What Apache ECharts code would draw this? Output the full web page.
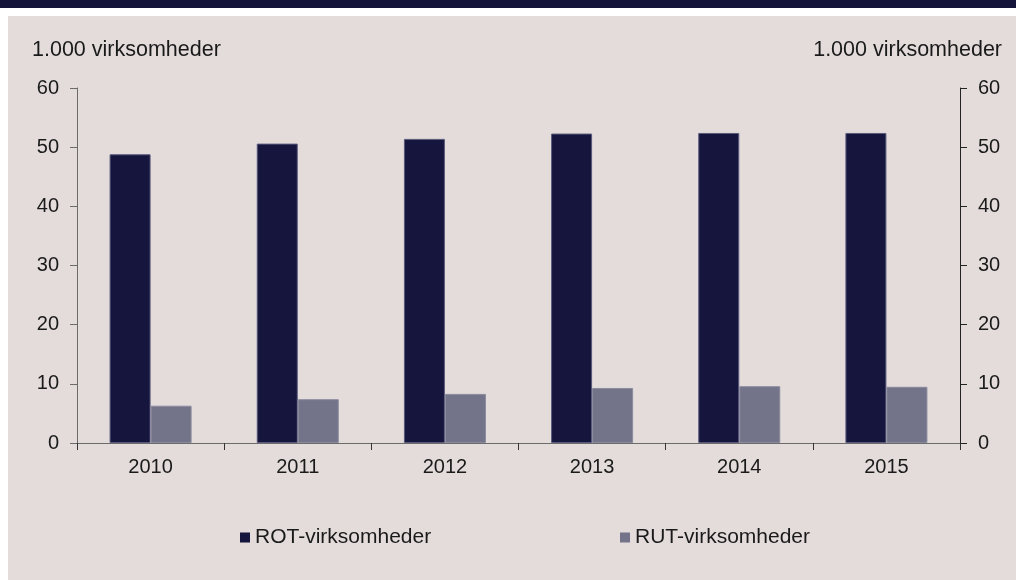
<!DOCTYPE html>
<html>
<head>
<meta charset="utf-8">
<script src="https://cdn.jsdelivr.net/npm/echarts@6/dist/echarts.min.js"></script>
<style>
  html, body { margin: 0; padding: 0; background: #ffffff; }
  #chart { width: 1016px; height: 580px; }
</style>
</head>
<body>
<div id="chart"></div>
<script>
// data
const years = ['2010', '2011', '2012', '2013', '2014', '2015'];
const rotValues = [48.8, 50.6, 51.4, 52.3, 52.4, 52.4];
const rutValues = [6.3, 7.4, 8.3, 9.3, 9.6, 9.5];
const seriesNames = ['ROT-virksomheder', 'RUT-virksomheder'];
const unitLabel = '1.000 virksomheder';

const chart = echarts.init(document.getElementById('chart'));
const font = 'Liberation Sans, Arial, sans-serif';
const textColor = '#1a1a1a';
const fs = 20;

const option = {
  backgroundColor: '#ffffff',
  animation: false,
  textStyle: { fontFamily: font },
  graphic: [
    // dark title band at top (title text is cut off in the original)
    { type: 'rect', left: 0, top: 0, shape: { width: 1016, height: 8 }, style: { fill: '#14143a' }, z: -10 },
    // chart panel
    { type: 'rect', left: 8, top: 16, shape: { width: 1008, height: 564 }, style: { fill: '#e3dcdb' }, z: -10 },
    { type: 'text', left: 32, top: 39, style: { text: unitLabel, font: '21.5px ' + font, fill: textColor } },
    { type: 'text', right: 14, top: 39, style: { text: unitLabel, font: '21.5px ' + font, fill: textColor } }
  ],
  grid: { left: 77, right: 56, top: 88, bottom: 137 },
  legend: [
    {
      data: [seriesNames[0]],
      left: 235, top: 522,
      icon: 'rect', itemWidth: 10, itemHeight: 10,
      itemStyle: { borderWidth: 0 },
      textStyle: { fontSize: 21, color: textColor, fontFamily: font }
    },
    {
      data: [seriesNames[1]],
      left: 615, top: 522,
      icon: 'rect', itemWidth: 10, itemHeight: 10,
      itemStyle: { borderWidth: 0 },
      textStyle: { fontSize: 21, color: textColor, fontFamily: font }
    }
  ],
  xAxis: {
    type: 'category',
    data: years,
    axisLine: { lineStyle: { color: '#6b6b6b', width: 1 } },
    axisTick: { show: true, length: 7, lineStyle: { color: '#333' } },
    axisLabel: { fontSize: fs, color: textColor, margin: 14 },
    splitLine: { show: false }
  },
  yAxis: [
    {
      type: 'value', position: 'left', min: 0, max: 60, interval: 10,
      axisLine: { show: true, lineStyle: { color: '#6b6b6b' } },
      axisTick: { show: true, length: 7, lineStyle: { color: '#6b6b6b' } },
      axisLabel: { fontSize: fs, color: textColor, margin: 18 },
      splitLine: { show: false }
    },
    {
      type: 'value', position: 'right', min: 0, max: 60, interval: 10,
      axisLine: { show: true, lineStyle: { color: '#222' } },
      axisTick: { show: true, length: 7, lineStyle: { color: '#222' } },
      axisLabel: { fontSize: fs, color: textColor, margin: 18 },
      splitLine: { show: false }
    }
  ],
  series: [
    {
      name: seriesNames[0], type: 'bar', data: rotValues,
      barWidth: 41, barGap: '0%',
      itemStyle: { color: '#15153d', borderColor: '#5a5a7c', borderWidth: 1 }
    },
    {
      name: seriesNames[1], type: 'bar', data: rutValues,
      barWidth: 41, barGap: '0%',
      itemStyle: { color: '#737389', borderColor: '#8a8a9e', borderWidth: 1 }
    }
  ]
};

chart.setOption(option);
</script>
</body>
</html>
